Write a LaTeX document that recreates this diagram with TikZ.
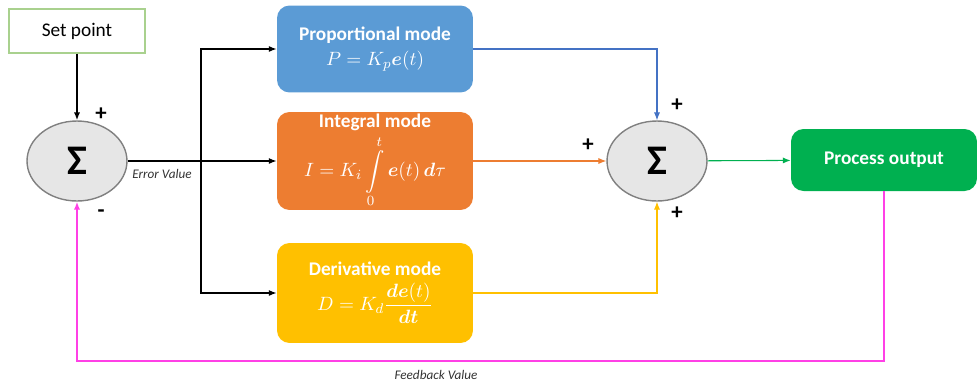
\documentclass[tikz,border=0pt]{standalone}
\usepackage{amsmath, amssymb}
\usepackage{xcolor}
\usepackage{fontspec}
\setmainfont{Carlito}
\usepackage{tikz}
\usetikzlibrary{shapes.geometric, arrows.meta, positioning}
\definecolor{propblue}{RGB}{91, 155, 213}
\definecolor{intorange}{RGB}{237, 125, 49}
\definecolor{deryellow}{RGB}{255, 192, 0}
\definecolor{outgreen}{RGB}{0, 176, 80}
\definecolor{lineblue}{RGB}{68, 114, 196}
\definecolor{fbpink}{RGB}{255, 64, 230}
\definecolor{sumgray}{RGB}{230, 230, 230}
\definecolor{setgreen}{RGB}{169, 209, 142}

\begin{document}
\begin{tikzpicture}[x=0.02cm, y=-0.02cm,
    arr/.style={-{Latex[length=4.5pt, width=3.5pt]}},
    sumnode/.style={ellipse, draw=gray, thick, fill=sumgray, minimum width=2cm,
      minimum height=1.6cm, inner sep=0pt, font=\fontsize{24}{26}\selectfont\bfseries},
    modebox/.style={rounded corners=0.25cm, minimum width=3.92cm, text=white,
      align=center, font=\fontsize{11}{14}\selectfont},
    sign/.style={font=\fontsize{13}{14}\selectfont\bfseries},
    smalllbl/.style={font=\fontsize{7.5}{9}\selectfont\itshape, text=black!80}]
    \useasboundingbox (0,0) rectangle (977,383);
    % input and first summer
    \node[draw=setgreen, semithick, minimum width=2.72cm, minimum height=0.88cm,
      font=\fontsize{11}{13}\selectfont] (setpt) at (77,31) {Set point};
    \node[sumnode] (sumL) at (77,161) {Σ};
    \node[sign] (plusL) at (101,114) {+};
    \node[sign] (minusL) at (101,214) {-};
    % the three modes
    \node[modebox, fill=propblue, minimum height=1.74cm] (prop) at (375,49)
      {\textbf{Proportional mode}\\$P = K_p\boldsymbol{e}(t)$};
    \node[modebox, fill=intorange, minimum height=1.96cm, inner ysep=1pt] (int) at (375,161)
      {\textbf{Integral mode}\\[2pt]$I = K_i\displaystyle\int\limits_0^t \boldsymbol{e}(t)\,\boldsymbol{d}\tau$};
    \node[modebox, fill=deryellow, minimum height=2cm] (der) at (375,293)
      {\textbf{Derivative mode}\\[3pt]$D = K_d\dfrac{\boldsymbol{de}(t)}{\boldsymbol{dt}}$};
    % second summer and output
    \node[sumnode] (sumR) at (657,161) {Σ};
    \node[sign] (plusT) at (677,105) {+};
    \node[sign] (plusM) at (588,145) {+};
    \node[sign] (plusB) at (677,213) {+};
    \node[rounded corners=0.25cm, fill=outgreen, text=white, minimum width=3.72cm,
      minimum height=1.24cm, font=\fontsize{11}{13}\selectfont\bfseries] (proc) at (884,160) {Process output};
    % error signal and branches
    \coordinate (br) at (201,161);
    \node[smalllbl] (errlbl) at (162,174) {Error Value};
    \draw[arr, thick] (setpt) -- (sumL);
    \draw[thick] (sumL) -- (br);
    \draw[arr, thick] (br) -- (int);
    \draw[arr, thick] (br) |- (prop);
    \draw[arr, thick] (br) |- (der);
    % into the second summer
    \draw[arr, lineblue, semithick] (prop) -| (sumR);
    \draw[arr, intorange, semithick] (int) -- (sumR);
    \draw[arr, deryellow, semithick] (der) -| (sumR);
    \draw[arr, outgreen, semithick] (sumR) -- (proc);
    % feedback
    \coordinate (fb) at (77,361);
    \draw[arr, fbpink, thick] (proc.south) |- (fb) -- (sumL);
    \node[smalllbl] (fblbl) at (436,375) {Feedback Value};
  \end{tikzpicture}
\end{document}
